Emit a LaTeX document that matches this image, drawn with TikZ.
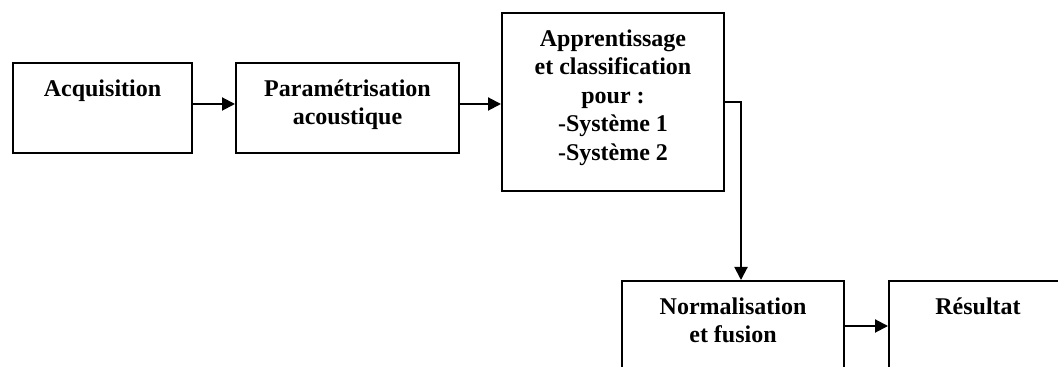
\documentclass[tikz,border=0pt]{standalone}
\usepackage{fontspec}
\setmainfont{Liberation Serif}
\usetikzlibrary{arrows.meta, positioning}

\tikzset{
    blk/.style={rectangle, draw, line width=1pt, inner sep=0pt, minimum height=45pt},
    txt/.style={anchor=north, inner sep=0pt, yshift=-8.5pt, align=center,
        font=\fontsize{12}{14.25}\selectfont\bfseries},
    arr/.style={line width=1pt, -{Triangle[length=6.5pt, width=6.5pt]}}
}

\begin{document}
\begin{tikzpicture}[node distance=21pt]
    \clip (0,0) rectangle (529pt,-183.5pt);

    \node (acq) [blk, minimum width=89.5pt, anchor=north west,
        label={[txt]north:Acquisition}] at (6pt,-31pt) {};
    \node (param) [blk, minimum width=111.5pt, right=of acq,
        label={[txt]north:Paramétrisation\\acoustique}] {};
    \node (appr) [blk, minimum width=111pt, minimum height=89pt, anchor=north west,
        label={[txt]north:Apprentissage\\et classification\\pour :\\-Système 1\\-Système 2}] at (250.5pt,-6pt) {};
    \node (norm) [blk, minimum width=111pt, minimum height=70pt, anchor=north west,
        label={[txt]north:Normalisation\\et fusion}] at (310.5pt,-140pt) {};
    \node (res) [blk, minimum width=89pt, minimum height=70pt, anchor=north west,
        label={[txt]north:Résultat}] at (444pt,-140pt) {};

    % level of the last arrow
    \coordinate (lvl) at (0,-163pt);

    \draw[arr] ([yshift=2pt]acq.east) -- ([yshift=2pt]param.west);
    \draw[arr] ([yshift=2pt]param.east) -- ([yshift=2pt]param.east -| appr.west);
    \draw[arr] (appr.east) -| ([xshift=4pt]norm.north);
    \draw[arr] (norm.east |- lvl) -- (res.west |- lvl);
\end{tikzpicture}
\end{document}
